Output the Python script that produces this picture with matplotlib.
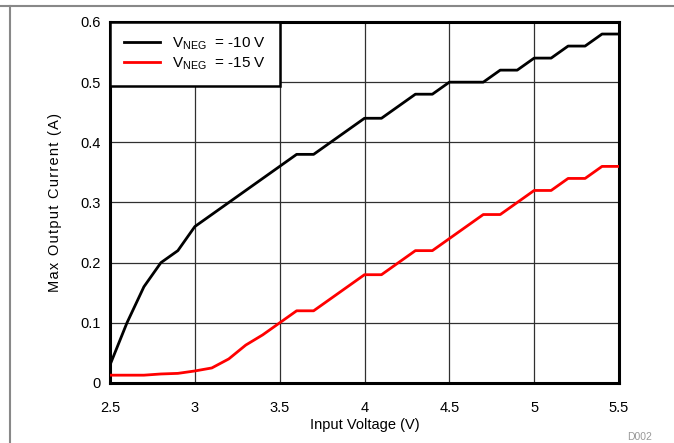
import matplotlib
matplotlib.use('Agg')
import matplotlib.pyplot as plt
from matplotlib.lines import Line2D

plt.rcParams['font.family'] = ['Liberation Sans', 'DejaVu Sans']

# 输入电压 (V)
vin = [2.5, 2.6, 2.7, 2.8, 2.9, 3.0, 3.1, 3.2, 3.3, 3.4, 3.5,
       3.6, 3.7, 3.8, 3.9, 4.0, 4.1, 4.2, 4.3, 4.4, 4.5,
       4.6, 4.7, 4.8, 4.9, 5.0, 5.1, 5.2, 5.3, 5.4, 5.5]

# VNEG = -10 V 最大输出电流 (A)
iout_10 = [0.03, 0.10, 0.16, 0.20, 0.22, 0.26, 0.28, 0.30, 0.32, 0.34, 0.36,
           0.38, 0.38, 0.40, 0.42, 0.44, 0.44, 0.46, 0.48, 0.48, 0.50,
           0.50, 0.50, 0.52, 0.52, 0.54, 0.54, 0.56, 0.56, 0.58, 0.58]

# VNEG = -15 V 最大输出电流 (A)
iout_15 = [0.013, 0.013, 0.013, 0.015, 0.016, 0.020, 0.025, 0.040, 0.063, 0.080, 0.10,
           0.12, 0.12, 0.14, 0.16, 0.18, 0.18, 0.20, 0.22, 0.22, 0.24,
           0.26, 0.28, 0.28, 0.30, 0.32, 0.32, 0.34, 0.34, 0.36, 0.36]

xticks = [2.5, 3, 3.5, 4, 4.5, 5, 5.5]
xticklabels = ['2.5', '3', '3.5', '4', '4.5', '5', '5.5']
yticks = [0, 0.1, 0.2, 0.3, 0.4, 0.5, 0.6]
yticklabels = ['0', '0.1', '0.2', '0.3', '0.4', '0.5', '0.6']

fig = plt.figure(figsize=(6.74, 4.43), dpi=100)
ax = fig.add_axes([110 / 674, 1 - 383 / 443, 509 / 674, 361 / 443])

ax.plot(vin, iout_10, color='black', linewidth=2.0, zorder=3)
ax.plot(vin, iout_15, color='#ff0000', linewidth=2.0, zorder=3)

ax.set_xlim(2.5, 5.5)
ax.set_ylim(0, 0.6)
ax.set_xticks(xticks)
ax.set_xticklabels(xticklabels)
ax.set_yticks(yticks)
ax.set_yticklabels(yticklabels)
ax.tick_params(length=0, labelsize=10.5, pad=7)
ax.tick_params(axis='x', pad=13)
ax.grid(True, color='#303030', linewidth=0.9)
ax.set_axisbelow(True)
for s in ax.spines.values():
    s.set_linewidth(2.2)
    s.set_color('black')

ax.set_xlabel('Input Voltage (V)', fontsize=10.5, labelpad=2)
# 纵轴标题字距较宽，字符间插入细空格
ylab = '\u200a'.join('Max Output Current (A)')
ax.set_ylabel(ylab, fontsize=10.5, labelpad=13)

handles = [Line2D([], [], color='black', linewidth=2.0),
           Line2D([], [], color='#ff0000', linewidth=2.0)]
labels = ['V$_{\\mathregular{NEG}}$  = -10 V ', 'V$_{\\mathregular{NEG}}$  = -15 V ']
leg = ax.legend(handles, labels, loc='upper left', fontsize=11, frameon=True,
                fancybox=False, framealpha=1, edgecolor='black',
                borderaxespad=0, handlelength=2.4, handletextpad=0.75,
                borderpad=0.9, labelspacing=0.2)
leg.get_frame().set_linewidth(1.8)

# 外框
fig.add_artist(Line2D([0, 1], [1 - 6 / 443, 1 - 6 / 443], color='#888888', linewidth=1.5))
fig.add_artist(Line2D([10 / 674, 10 / 674], [0, 1 - 6 / 443], color='#888888', linewidth=1.5))

fig.text(640 / 674, 1 - 437 / 443, 'D002', fontsize=7.5, color='#999999', ha='center', va='center')

plt.savefig('out.png', dpi=100)
